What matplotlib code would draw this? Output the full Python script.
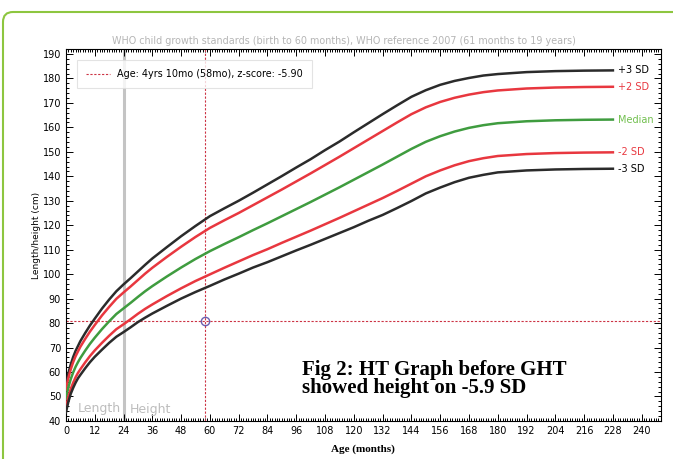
# WHO height-for-age chart (girls), patient point at 58 months

import matplotlib.pyplot as plt
from matplotlib.patches import FancyBboxPatch
from matplotlib.ticker import MultipleLocator

months = [0, 1, 2, 3, 4, 5, 6, 8, 10, 12, 15, 18, 21, 24, 27, 30, 33, 36, 42, 48,
          54, 60, 66, 72, 78, 84, 90, 96, 102, 108, 114, 120, 126, 132, 138, 144,
          150, 156, 162, 168, 174, 180, 192, 204, 216, 228]

sd_minus3 = [43.5, 47.8, 51.1, 53.5, 55.6, 57.4, 58.8, 61.5, 64.0, 66.2, 69.1, 71.9,
             74.4, 76.3, 78.3, 80.4, 82.2, 83.9, 87.0, 90.0, 92.7, 95.2, 97.8, 100.2,
             102.7, 104.9, 107.3, 109.7, 112.0, 114.4, 116.8, 119.2, 121.8, 124.2,
             127.0, 129.9, 133.0, 135.4, 137.6, 139.4, 140.6, 141.6, 142.4, 142.8,
             143.0, 143.1]
sd_minus2 = [45.4, 49.8, 53.1, 55.6, 57.8, 59.6, 61.1, 63.9, 66.5, 68.8, 71.9, 74.8,
             77.5, 79.5, 81.6, 83.8, 85.8, 87.6, 91.0, 94.2, 97.2, 99.9, 102.6, 105.2,
             107.8, 110.2, 112.8, 115.3, 117.8, 120.4, 123.0, 125.7, 128.4, 131.1,
             134.0, 137.0, 140.0, 142.4, 144.5, 146.2, 147.4, 148.3, 149.1, 149.5,
             149.7, 149.8]
median = [49.1, 53.7, 57.1, 59.8, 62.1, 64.0, 65.7, 68.7, 71.5, 74.0, 77.5, 80.7,
          83.7, 86.0, 88.3, 90.7, 93.0, 95.1, 99.0, 102.7, 106.2, 109.4, 112.3, 115.1,
          118.0, 120.8, 123.7, 126.6, 129.5, 132.5, 135.5, 138.6, 141.7, 144.8, 148.0,
          151.2, 154.1, 156.4, 158.3, 159.8, 160.9, 161.7, 162.5, 162.9, 163.1, 163.2]
sd_plus2 = [52.8, 57.6, 61.1, 64.0, 66.4, 68.4, 70.3, 73.5, 76.5, 79.2, 83.1, 86.6,
            89.9, 92.5, 95.0, 97.6, 100.2, 102.6, 107.0, 111.2, 115.2, 118.9, 122.0,
            125.0, 128.2, 131.4, 134.6, 137.9, 141.2, 144.6, 148.0, 151.5, 155.0,
            158.5, 162.0, 165.4, 168.2, 170.4, 172.1, 173.4, 174.4, 175.1, 175.9,
            176.3, 176.5, 176.6]
sd_plus3 = [54.7, 59.5, 63.1, 66.1, 68.6, 70.6, 72.6, 75.9, 79.0, 81.8, 85.9, 89.6,
            93.0, 95.8, 98.4, 101.1, 103.8, 106.4, 111.0, 115.5, 119.7, 123.7, 126.9,
            130.0, 133.3, 136.7, 140.1, 143.6, 147.0, 150.7, 154.2, 158.0, 161.7,
            165.4, 169.0, 172.5, 175.2, 177.4, 179.0, 180.2, 181.2, 181.8, 182.6,
            183.0, 183.2, 183.3]

patient_age = 58
patient_height = 81
legend_label = "Age: 4yrs 10mo (58mo), z-score: -5.90"

BLACK = "#2b2b2b"
RED = "#e8373f"
GREEN = "#3f9c3f"

fig = plt.figure(figsize=(6.73, 4.59), dpi=100)
ax = fig.add_axes([0.098, 0.083, 0.884, 0.810])

# green frame around the figure (pixel coords, origin bottom left)
frame = FancyBboxPatch((3, -100), 720, 547, boxstyle="round,pad=0,rounding_size=10",
                       transform=None, fill=False, edgecolor="#8dc63f", linewidth=1.5)
fig.patches.append(frame)

ax.axvline(24, color="#c4c4c4", linewidth=2.2, zorder=1)

for vals, col in [(sd_plus3, BLACK), (sd_plus2, RED), (median, GREEN),
                  (sd_minus2, RED), (sd_minus3, BLACK)]:
    ax.plot(months, vals, color=col, linewidth=1.8, zorder=3)

ax.axvline(patient_age, color="#cc3344", linewidth=0.8, linestyle=(0, (2, 1.5)),
           zorder=2, label=legend_label)
ax.axhline(patient_height, color="#cc3344", linewidth=0.8, linestyle=(0, (2, 1.5)),
           zorder=2)
ax.plot([patient_age], [patient_height], marker="o", markersize=6,
        markerfacecolor="none", markeredgecolor="#6a5fb0", markeredgewidth=1.0, zorder=4)

# curve labels
labels = [("+3 SD", sd_plus3, "black"), ("+2 SD", sd_plus2, RED),
          ("Median", median, "#72c04f"), ("-2 SD", sd_minus2, RED),
          ("-3 SD", sd_minus3, "black")]
for txt, vals, col in labels:
    ax.text(230, vals[-1], txt, color=col, fontsize=7, va="center", ha="left")

ax.text(5, 45, "Length", color="#bdbdbd", fontsize=9, va="center")
ax.text(26.7, 44.5, "Height", color="#bdbdbd", fontsize=9, va="center")

ax.text(98.3, 65.0, "Fig 2: HT Graph before GHT\nshowed height on -5.9 SD",
        fontsize=15, fontweight="bold", family="Liberation Serif",
        linespacing=0.88, va="top", ha="left")

ax.set_xlim(0, 248)
ax.set_ylim(40, 192)
ax.set_xticks(range(0, 241, 12))
ax.xaxis.set_minor_locator(MultipleLocator(1))
ax.set_yticks(range(40, 191, 10))
ax.yaxis.set_minor_locator(MultipleLocator(2))
ax.tick_params(which="both", direction="in", top=True, right=True, labelsize=7,
               width=0.7)
ax.tick_params(which="major", length=5)
ax.tick_params(which="minor", length=2.5)
for s in ax.spines.values():
    s.set_linewidth(0.8)

ax.set_xlabel("Age (months)", fontsize=8, fontweight="bold", family="Liberation Serif",
              labelpad=6)
ax.set_ylabel("Length/height (cm)", fontsize=6.5, labelpad=1)
ax.text(0.468, 1.008, "WHO child growth standards (birth to 60 months), WHO reference 2007 "
        "(61 months to 19 years)", transform=ax.transAxes, fontsize=6.9,
        color="#b5b5b5", ha="center", va="bottom")

leg = ax.legend(loc="upper left", fontsize=6.9, frameon=True, fancybox=False,
                edgecolor="#dddddd", handlelength=2.5, borderpad=0.9,
                borderaxespad=0, bbox_to_anchor=(0.0185, 0.97))
leg.get_frame().set_linewidth(0.8)

fig.savefig("out.png", dpi=100)
